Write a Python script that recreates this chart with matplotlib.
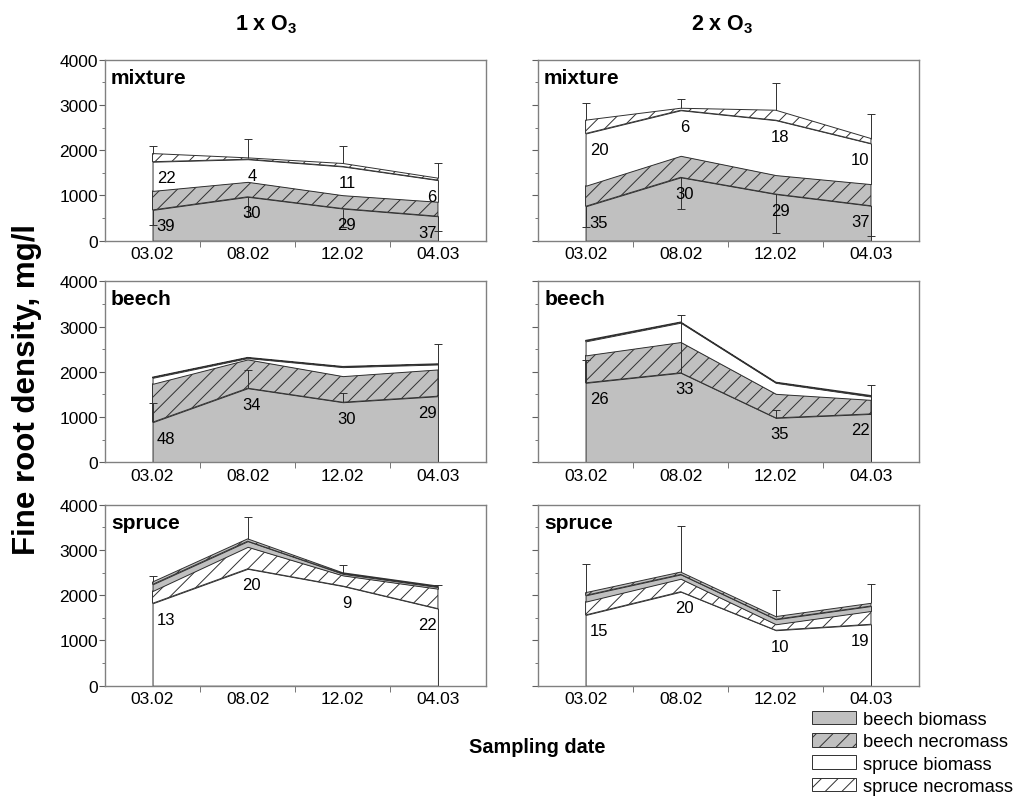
import matplotlib.pyplot as plt
from matplotlib.patches import Patch
import numpy as np

plt.rcParams["font.family"] = ["Liberation Sans", "DejaVu Sans"]
plt.rcParams["hatch.linewidth"] = 0.7

DATES = ["03.02", "08.02", "12.02", "04.03"]
TREATMENTS = [r"1 x O$_\mathregular{3}$", r"2 x O$_\mathregular{3}$"]
STANDS = ["mixture", "beech", "spruce"]

# fine root density, mg/l, per stand and ozone level
MIX1_BEECH_BIO = [680, 970, 710, 540]
MIX1_BEECH_NECRO = [420, 330, 295, 320]
MIX1_SPRUCE_BIO = [645, 500, 635, 478]
MIX1_SPRUCE_NECRO = [180, 30, 66, 44]
MIX1_ERR_UP = [171, 427, 382, 324]
MIX1_ERR_DOWN = [334, 433, 416, 320]
MIX1_PCT_BEECH = [39, 30, 29, 37]
MIX1_PCT_SPRUCE = [22, 4, 11, 6]

MIX2_BEECH_BIO = [760, 1400, 1030, 772]
MIX2_BEECH_NECRO = [453, 475, 419, 478]
MIX2_SPRUCE_BIO = [1155, 1007, 1213, 897]
MIX2_SPRUCE_NECRO = [294, 44, 220, 110]
MIX2_ERR_UP = [389, 199, 611, 552]
MIX2_ERR_DOWN = [466, 702, 861, 662]
MIX2_PCT_BEECH = [35, 30, 29, 37]
MIX2_PCT_SPRUCE = [20, 6, 18, 10]

BEECH1_BEECH_BIO = [886, 1638, 1328, 1461]
BEECH1_BEECH_NECRO = [848, 635, 576, 591]
BEECH1_SPRUCE_BIO = [133, 30, 199, 110]
BEECH1_SPRUCE_NECRO = [15, 15, 15, 15]
BEECH1_ERR = [420, 392, 200, 1159]
BEECH1_PCT = [48, 34, 30, 29]

BEECH2_BEECH_BIO = [1756, 1978, 982, 1070]
BEECH2_BEECH_NECRO = [606, 679, 531, 310]
BEECH2_SPRUCE_BIO = [310, 428, 243, 74]
BEECH2_SPRUCE_NECRO = [22, 15, 15, 22]
BEECH2_ERR = [495, 1269, 184, 642]
BEECH2_PCT = [26, 33, 35, 22]

SPRUCE1_SPRUCE_BIO = [1820, 2583, 2202, 1703]
SPRUCE1_SPRUCE_NECRO = [272, 485, 235, 440]
SPRUCE1_BEECH_BIO = [147, 125, 36, 37]
SPRUCE1_BEECH_NECRO = [51, 51, 22, 22]
SPRUCE1_ERR = [132, 484, 162, 30]
SPRUCE1_PCT = [13, 20, 9, 22]

SPRUCE2_SPRUCE_BIO = [1563, 2077, 1226, 1358]
SPRUCE2_SPRUCE_NECRO = [294, 286, 132, 293]
SPRUCE2_BEECH_BIO = [139, 96, 110, 110]
SPRUCE2_BEECH_NECRO = [59, 51, 59, 59]
SPRUCE2_ERR = [639, 1028, 579, 419]
SPRUCE2_PCT = [15, 20, 10, 19]

EDGE = "#303030"
GREY = "#c0c0c0"
STYLES = {
    "beech biomass": dict(facecolor=GREY, hatch=None),
    "beech necromass": dict(facecolor=GREY, hatch="//"),
    "spruce biomass": dict(facecolor="white", hatch=None),
    "spruce necromass": dict(facecolor="white", hatch="//"),
}


def stack_areas(ax, layers):
    """Stacked area layers, returns the cumulative top of every layer."""
    x = np.arange(len(DATES))
    bottom = np.zeros(len(DATES))
    tops = []
    for values, kind in layers:
        top = bottom + np.asarray(values, dtype=float)
        ax.fill_between(
            x, bottom, top,
            edgecolor=EDGE,
            linewidth=0.7,
            **STYLES[kind],
        )
        tops.append(top)
        bottom = top
    return tops


def error_bars(ax, base, err, direction=1):
    x = np.arange(len(DATES))
    ends = base + direction * np.asarray(err, dtype=float)
    ax.vlines(x, base, ends, color=EDGE, linewidth=0.7, zorder=3)
    ax.plot(x, ends, ls="none", marker="_", ms=6, mew=0.7,
            color=EDGE, zorder=3)


def percent_labels(ax, base, values):
    n = len(DATES)
    for i, (y, v) in enumerate(zip(base, values)):
        if i == 0:
            dx, ha = 3, "left"
        elif i == n - 1:
            dx, ha = -1, "right"
        else:
            dx, ha = 3, "center"
        ax.annotate(
            str(v), (i, y),
            xytext=(dx, -11.5), textcoords="offset points",
            ha=ha, va="center", fontsize=12, zorder=4,
        )


def style_axes(ax, name, show_ylabels):
    ax.set_xlim(-0.5, len(DATES) - 0.5)
    ax.set_ylim(0, 4000)
    ax.set_xticks(range(len(DATES)))
    ax.set_xticklabels(DATES, fontsize=12.5)
    ax.set_xticks(np.arange(len(DATES) - 1) + 0.5, minor=True)
    ax.set_yticks(range(0, 4001, 1000))
    ax.set_yticks(range(500, 4000, 1000), minor=True)
    ax.tick_params(axis="x", which="major", length=0, pad=4)
    ax.tick_params(axis="x", which="minor", length=4, direction="out",
                   color="#606060")
    ax.tick_params(axis="y", which="major", length=4, direction="out",
                   color="#606060", labelsize=12.5, pad=1,
                   labelleft=show_ylabels)
    ax.tick_params(axis="y", which="minor", length=2, direction="out",
                   color="#606060")
    for spine in ax.spines.values():
        spine.set_color("#808080")
        spine.set_linewidth(1.0)
    ax.text(0.016, 0.955, name, transform=ax.transAxes, ha="left",
            va="top", fontsize=15, fontweight="bold")


fig = plt.figure(figsize=(10.23, 8.03), dpi=100)

col_left = [0.1026, 0.5259]
col_width = 0.372
row_bottom = [0.6990, 0.4230, 0.1448]
row_height = 0.2255

axes = [[fig.add_axes([col_left[c], row_bottom[r], col_width, row_height])
         for c in range(2)] for r in range(3)]

# mixed stand
for c, (bb, bn, sb, sn, eu, ed, pb, ps) in enumerate([
    (MIX1_BEECH_BIO, MIX1_BEECH_NECRO, MIX1_SPRUCE_BIO, MIX1_SPRUCE_NECRO,
     MIX1_ERR_UP, MIX1_ERR_DOWN, MIX1_PCT_BEECH, MIX1_PCT_SPRUCE),
    (MIX2_BEECH_BIO, MIX2_BEECH_NECRO, MIX2_SPRUCE_BIO, MIX2_SPRUCE_NECRO,
     MIX2_ERR_UP, MIX2_ERR_DOWN, MIX2_PCT_BEECH, MIX2_PCT_SPRUCE),
]):
    ax = axes[0][c]
    tops = stack_areas(ax, [(bb, "beech biomass"), (bn, "beech necromass"),
                            (sb, "spruce biomass"), (sn, "spruce necromass")])
    error_bars(ax, tops[-1], eu, 1)
    error_bars(ax, tops[0], ed, -1)
    percent_labels(ax, tops[0], pb)
    percent_labels(ax, tops[2], ps)

# pure beech stand
for c, (bb, bn, sb, sn, err, pct) in enumerate([
    (BEECH1_BEECH_BIO, BEECH1_BEECH_NECRO, BEECH1_SPRUCE_BIO,
     BEECH1_SPRUCE_NECRO, BEECH1_ERR, BEECH1_PCT),
    (BEECH2_BEECH_BIO, BEECH2_BEECH_NECRO, BEECH2_SPRUCE_BIO,
     BEECH2_SPRUCE_NECRO, BEECH2_ERR, BEECH2_PCT),
]):
    ax = axes[1][c]
    tops = stack_areas(ax, [(bb, "beech biomass"), (bn, "beech necromass"),
                            (sb, "spruce biomass"), (sn, "spruce necromass")])
    error_bars(ax, tops[0], err, 1)
    percent_labels(ax, tops[0], pct)

# pure spruce stand
for c, (sb, sn, bb, bn, err, pct) in enumerate([
    (SPRUCE1_SPRUCE_BIO, SPRUCE1_SPRUCE_NECRO, SPRUCE1_BEECH_BIO,
     SPRUCE1_BEECH_NECRO, SPRUCE1_ERR, SPRUCE1_PCT),
    (SPRUCE2_SPRUCE_BIO, SPRUCE2_SPRUCE_NECRO, SPRUCE2_BEECH_BIO,
     SPRUCE2_BEECH_NECRO, SPRUCE2_ERR, SPRUCE2_PCT),
]):
    ax = axes[2][c]
    tops = stack_areas(ax, [(sb, "spruce biomass"), (sn, "spruce necromass"),
                            (bb, "beech biomass"), (bn, "beech necromass")])
    error_bars(ax, tops[-1], err, 1)
    percent_labels(ax, tops[0], pct)

for r, name in enumerate(STANDS):
    for c in range(2):
        style_axes(axes[r][c], name, show_ylabels=(c == 0))

fig.text(266 / 1023, 1 - 25 / 803, TREATMENTS[0], ha="center", va="center",
         fontsize=15.5, fontweight="bold")
fig.text(722 / 1023, 1 - 25 / 803, TREATMENTS[1], ha="center", va="center",
         fontsize=15.5, fontweight="bold")
fig.text(27 / 1023, 1 - 390 / 803, "Fine root density, mg/l", rotation=90,
         ha="center", va="center", fontsize=22.5, fontweight="bold")
fig.text(537 / 1023, 1 - 748 / 803, "Sampling date", ha="center",
         va="center", fontsize=14.3, fontweight="bold")

handles = [Patch(edgecolor=EDGE, linewidth=0.7, **STYLES[k]) for k in STYLES]
fig.legend(
    handles, list(STYLES),
    loc="upper left",
    bbox_to_anchor=(812 / 1023, 1 - 712 / 803),
    frameon=False,
    fontsize=13.2,
    handlelength=2.4,
    handleheight=0.75,
    handletextpad=0.4,
    labelspacing=0.28,
    borderpad=0,
    borderaxespad=0,
)

fig.savefig("out.png", dpi=100)
